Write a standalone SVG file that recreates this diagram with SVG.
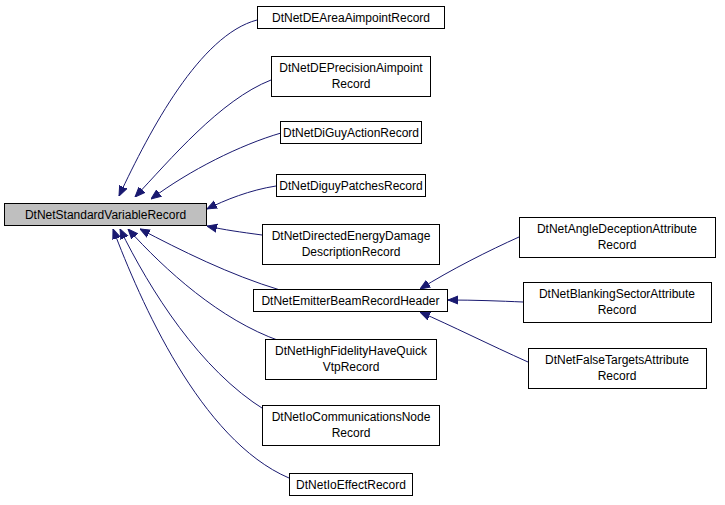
<svg xmlns="http://www.w3.org/2000/svg" width="725" height="505" viewBox="0 0 725 505">
<style>
rect{fill:#fff;stroke:#000;stroke-width:1}
#base rect{fill:#bfbfbf}
text{font-family:"Liberation Sans",Arial,sans-serif;font-size:12px;text-anchor:middle;fill:#000}
#edges path{fill:none;stroke:#191970;stroke-width:1;marker-end:url(#ah)}
</style>
<defs><marker id="ah" viewBox="0 0 10 10" refX="10" refY="5" markerWidth="10" markerHeight="10" markerUnits="userSpaceOnUse" orient="auto"><path d="M0,1 L10,5 L0,9 z" fill="#191970" stroke="#191970"/></marker></defs>
<rect width="725" height="505" style="fill:#fff;stroke:none"/>
<g id="edges">
<path d="M257,20 C200,35 150,130 119,196"/>
<path d="M271,80 C220,100 170,160 135,197"/>
<path d="M281,133 C240,145 190,170 151,199"/>
<path d="M276,186 C250,190 225,200 207,209"/>
<path d="M262,235 C240,232 225,230 207,226"/>
<path d="M280,290 C230,275 180,250 140,229"/>
<path d="M280,341 C220,320 165,270 128,229"/>
<path d="M265,410 C200,370 150,290 120,229"/>
<path d="M289,478 C200,440 140,300 113,229"/>
<path d="M519,237 C490,250 450,270 420,289"/>
<path d="M523,302 C500,301 475,300 448,300"/>
<path d="M528,362 C490,345 450,325 420,312"/>
</g>
<g id="base"><rect x="4.5" y="203.5" width="202" height="22"/><text x="105.5" y="219">DtNetStandardVariableRecord</text></g>
<g id="n1"><rect x="257.5" y="6.5" width="187" height="22"/><text x="351" y="22">DtNetDEAreaAimpointRecord</text></g>
<g id="n2"><rect x="271.5" y="56.5" width="159" height="40"/><text x="351" y="72">DtNetDEPrecisionAimpoint</text><text x="351" y="88">Record</text></g>
<g id="n3"><rect x="280.5" y="121.5" width="141" height="22"/><text x="351" y="137">DtNetDiGuyActionRecord</text></g>
<g id="n4"><rect x="276.5" y="174.5" width="149" height="22"/><text x="351" y="190">DtNetDiguyPatchesRecord</text></g>
<g id="n5"><rect x="262.5" y="224.5" width="177" height="40"/><text x="351" y="240">DtNetDirectedEnergyDamage</text><text x="351" y="256">DescriptionRecord</text></g>
<g id="n6"><rect x="253.5" y="289.5" width="194" height="22"/><text x="350.5" y="305">DtNetEmitterBeamRecordHeader</text></g>
<g id="n7"><rect x="265.5" y="339.5" width="171" height="40"/><text x="351" y="355">DtNetHighFidelityHaveQuick</text><text x="351" y="371">VtpRecord</text></g>
<g id="n8"><rect x="262.5" y="405.5" width="177" height="40"/><text x="351" y="421">DtNetIoCommunicationsNode</text><text x="351" y="437">Record</text></g>
<g id="n9"><rect x="289.5" y="473.5" width="123" height="22"/><text x="351" y="489">DtNetIoEffectRecord</text></g>
<g id="n10"><rect x="519.5" y="217.5" width="196" height="40"/><text x="617" y="233">DtNetAngleDeceptionAttribute</text><text x="617" y="249">Record</text></g>
<g id="n11"><rect x="523.5" y="282.5" width="188" height="40"/><text x="617" y="298">DtNetBlankingSectorAttribute</text><text x="617" y="314">Record</text></g>
<g id="n12"><rect x="528.5" y="348.5" width="178" height="40"/><text x="617" y="364">DtNetFalseTargetsAttribute</text><text x="617" y="380">Record</text></g>
</svg>
